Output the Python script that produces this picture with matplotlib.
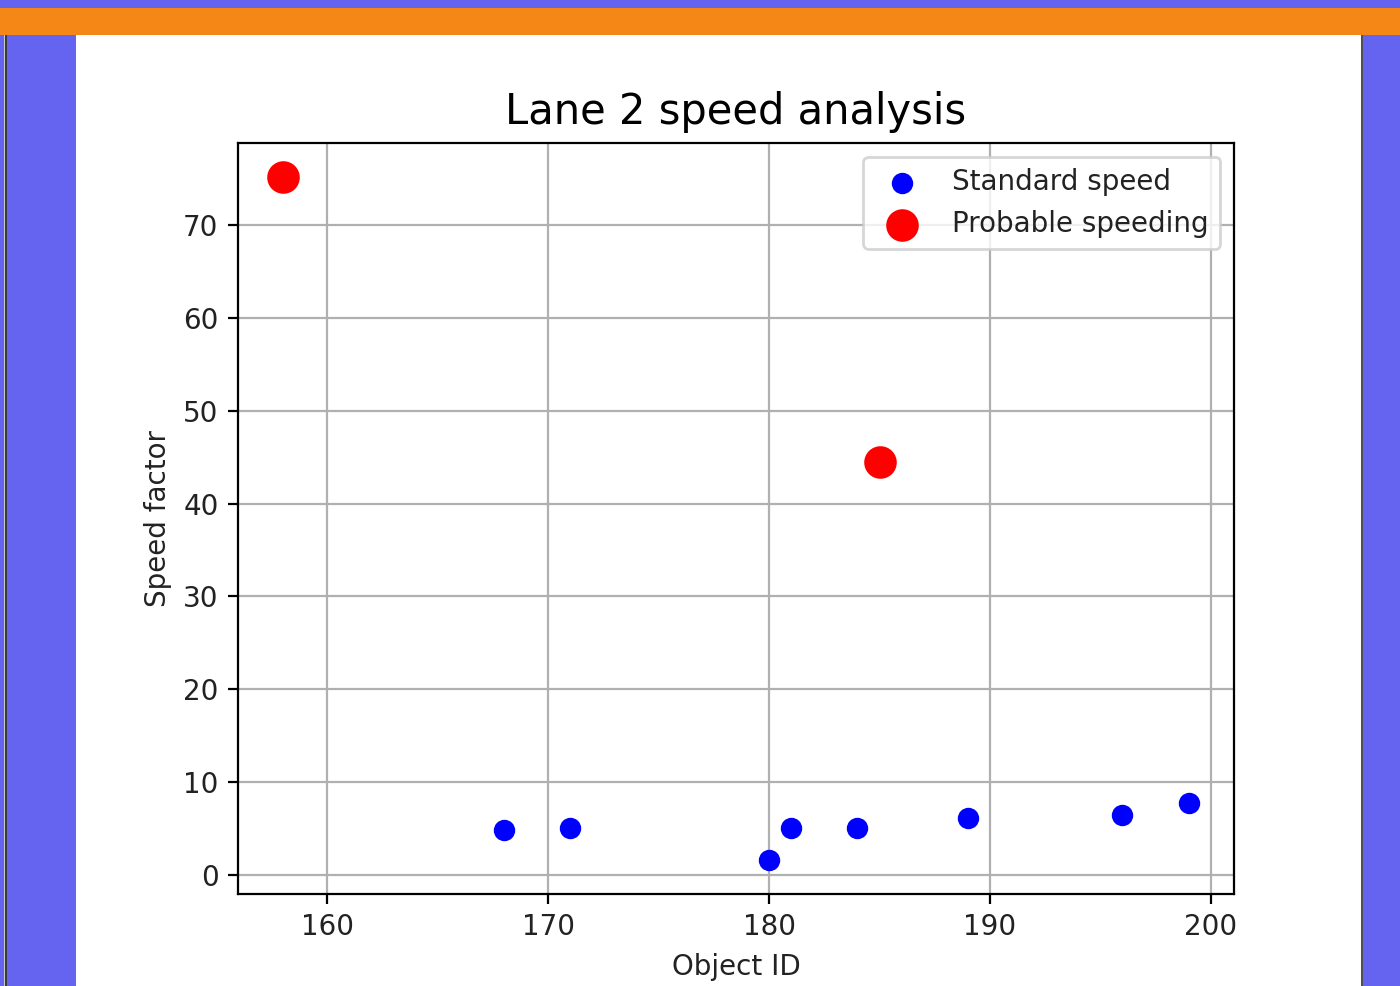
import matplotlib
matplotlib.use('Agg')
import matplotlib.pyplot as plt
from matplotlib.patches import Rectangle

# object IDs and speed factors
std_ids = [168, 171, 180, 181, 184, 189, 196, 199]
std_speed = [4.85, 5.05, 1.6, 5.05, 5.05, 6.1, 6.45, 7.75]
fast_ids = [158, 185]
fast_speed = [75.2, 44.5]

W, H = 1400, 986
fig = plt.figure(figsize=(W / 200, H / 200), dpi=200)
fig.patch.set_facecolor('#6464f0')

def px_rect(x0, y0, x1, y1, color):
    # rectangle given in pixel coords measured from the top-left corner
    fig.patches.append(Rectangle((x0 / W, 1 - y1 / H), (x1 - x0) / W, (y1 - y0) / H,
                                 transform=fig.transFigure, facecolor=color,
                                 edgecolor='none', zorder=-1))

px_rect(0, 8, W, 35, '#f48715')          # orange band at the top
px_rect(76, 35, 1361, H, 'white')        # page area holding the plot
px_rect(4, 35, 5, H, '#c8c8c8')          # thin borders
px_rect(5, 35, 7, H, '#3c3c3c')
px_rect(1361, 35, 1363, H, '#505050')

ax = fig.add_axes([238 / W, 1 - 894 / H, 996 / W, 751 / H])
ax.set_zorder(1)
ax.scatter(std_ids, std_speed, color='blue', s=45, label='Standard speed', zorder=3)
ax.scatter(fast_ids, fast_speed, color='red', s=115, label='Probable speeding', zorder=3)
ax.set_title('Lane 2 speed analysis', fontsize=15, pad=7)
ax.set_xlabel('Object ID', color='#222222')
ax.set_ylabel('Speed factor', color='#222222')
ax.tick_params(labelcolor='#222222')
ax.grid(True)
ax.set_axisbelow(True)
leg = ax.legend(loc='upper right')
for t in leg.get_texts():
    t.set_color('#222222')

fig.savefig('out.png', dpi=200, facecolor=fig.get_facecolor())
